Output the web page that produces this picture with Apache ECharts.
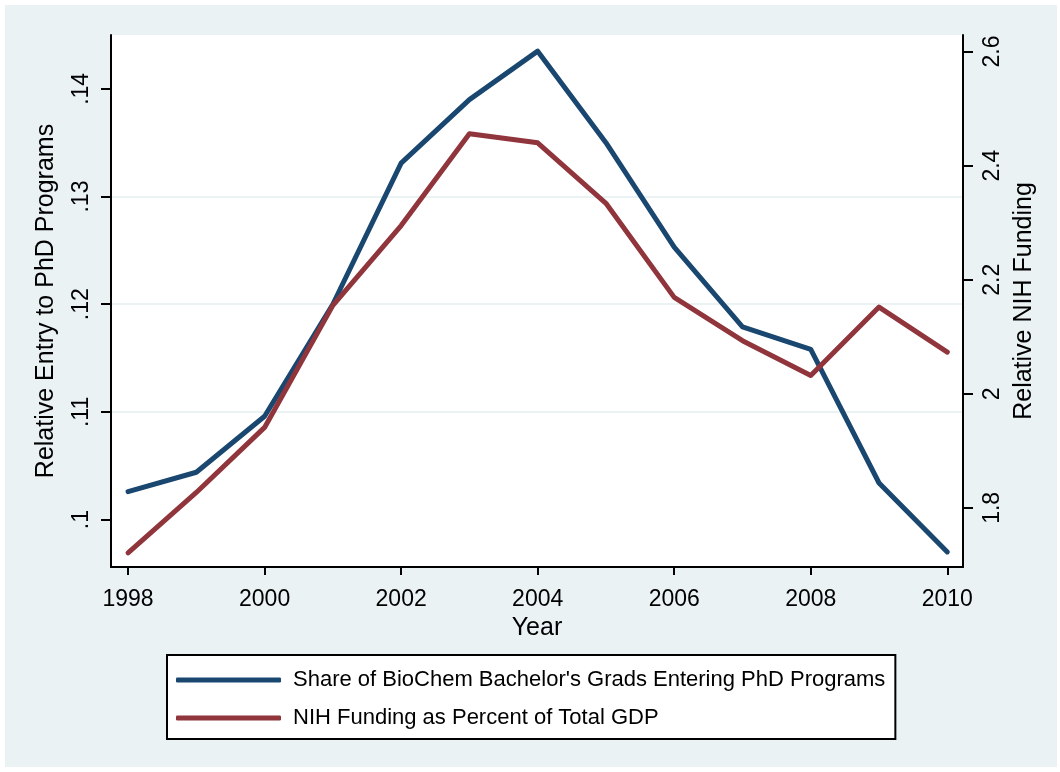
<!DOCTYPE html>
<html>
<head>
<meta charset="utf-8">
<script src="https://cdn.jsdelivr.net/npm/echarts@6/dist/echarts.min.js"></script>
<style>
  html, body { margin: 0; padding: 0; background: #ffffff; }
  #main { position: absolute; left: 5px; top: 5px; width: 1052px; height: 762px; }
</style>
</head>
<body>
<div id="main"></div>
<script>
// data
var years = [1998, 1999, 2000, 2001, 2002, 2003, 2004, 2005, 2006, 2007, 2008, 2009, 2010];
var shareEntering = [0.1026, 0.1044, 0.1096, 0.1200, 0.1331, 0.1390, 0.1435, 0.1350, 0.1253, 0.1179, 0.1158, 0.1034, 0.0970];
var nihFunding = [1.721, 1.827, 1.941, 2.155, 2.295, 2.456, 2.440, 2.334, 2.169, 2.093, 2.032, 2.152, 2.073];
var xTicks = [1998, 2000, 2002, 2004, 2006, 2008, 2010];
var leftTicks = [0.10, 0.11, 0.12, 0.13, 0.14];
var rightTicks = [1.8, 2.0, 2.2, 2.4, 2.6];
var seriesNames = ["Share of BioChem Bachelor's Grads Entering PhD Programs", "NIH Funding as Percent of Total GDP"];

var font = '"Liberation Sans", Arial, sans-serif';

function pairs(vals) {
    var out = [];
    for (var i = 0; i < years.length; i++) {
        out.push([years[i], vals[i]]);
    }
    return out;
}

// stata style: ".1", ".11" on the left axis
function stataFmt(v) {
    var s = String(Math.round(v * 1000) / 1000);
    return s.replace(/^0\./, '.');
}

var myChart = echarts.init(document.getElementById('main'));
var options = {
    backgroundColor: '#eaf2f3',
    animation: false,
    textStyle: { fontFamily: font },
    grid: {
        left: 106, top: 30, right: 94, bottom: 200,
        show: true, backgroundColor: '#ffffff', borderWidth: 0
    },
    legend: {
        orient: 'vertical',
        left: 162, top: 650,
        padding: [14, 10, 10, 9],
        itemWidth: 105, itemHeight: 5, itemGap: 16,
        icon: 'roundRect',
        backgroundColor: '#ffffff',
        borderColor: '#000000', borderWidth: 2, borderRadius: 0,
        textStyle: { fontSize: 22, color: '#000000', fontFamily: font, padding: [0, 0, 0, 7] },
        data: seriesNames
    },
    xAxis: {
        type: 'value',
        min: 1997.75, max: 2010.23,
        name: 'Year', nameLocation: 'middle', nameGap: 46,
        nameTextStyle: { fontSize: 25, color: '#000000' },
        axisLine: { show: true, lineStyle: { color: '#000000', width: 2 } },
        axisTick: { show: true, length: 8, customValues: xTicks, lineStyle: { color: '#000000', width: 2 } },
        axisLabel: {
            customValues: xTicks, fontSize: 23, color: '#000000', margin: 21,
            formatter: function (v) { return String(v); }
        },
        splitLine: { show: false }
    },
    yAxis: [{
        type: 'value',
        position: 'left',
        min: 0.0956, max: 0.1450,
        name: 'Relative Entry to PhD Programs', nameLocation: 'middle', nameGap: 52, nameRotate: 90,
        nameTextStyle: { fontSize: 25, color: '#000000' },
        axisLine: { show: true, lineStyle: { color: '#000000', width: 2 } },
        axisTick: { show: true, length: 10, customValues: leftTicks, lineStyle: { color: '#000000', width: 2 } },
        axisLabel: { customValues: leftTicks, rotate: 90, fontSize: 23, color: '#000000', margin: 18, formatter: stataFmt },
        splitLine: { show: true, showMinLine: false, showMaxLine: false, lineStyle: { color: '#eaf2f3', width: 2 } }
    }, {
        type: 'value',
        position: 'right',
        min: 1.6963, max: 2.629,
        name: 'Relative NIH Funding', nameLocation: 'middle', nameGap: 42, nameRotate: 90,
        nameTextStyle: { fontSize: 25, color: '#000000' },
        axisLine: { show: true, lineStyle: { color: '#000000', width: 2 } },
        axisTick: { show: true, length: 10, customValues: rightTicks, lineStyle: { color: '#000000', width: 2 } },
        axisLabel: { customValues: rightTicks, rotate: 90, fontSize: 23, color: '#000000', margin: 18 },
        splitLine: { show: false }
    }],
    series: [{
        name: seriesNames[0],
        type: 'line',
        yAxisIndex: 0,
        data: pairs(shareEntering),
        showSymbol: false,
        color: '#1a476f',
        lineStyle: { width: 5, color: '#1a476f', cap: 'round', join: 'round' }
    }, {
        name: seriesNames[1],
        type: 'line',
        yAxisIndex: 1,
        data: pairs(nihFunding),
        showSymbol: false,
        color: '#90353b',
        lineStyle: { width: 5, color: '#90353b', cap: 'round', join: 'round' }
    }]
};
myChart.setOption(options);
</script>
</body>
</html>
